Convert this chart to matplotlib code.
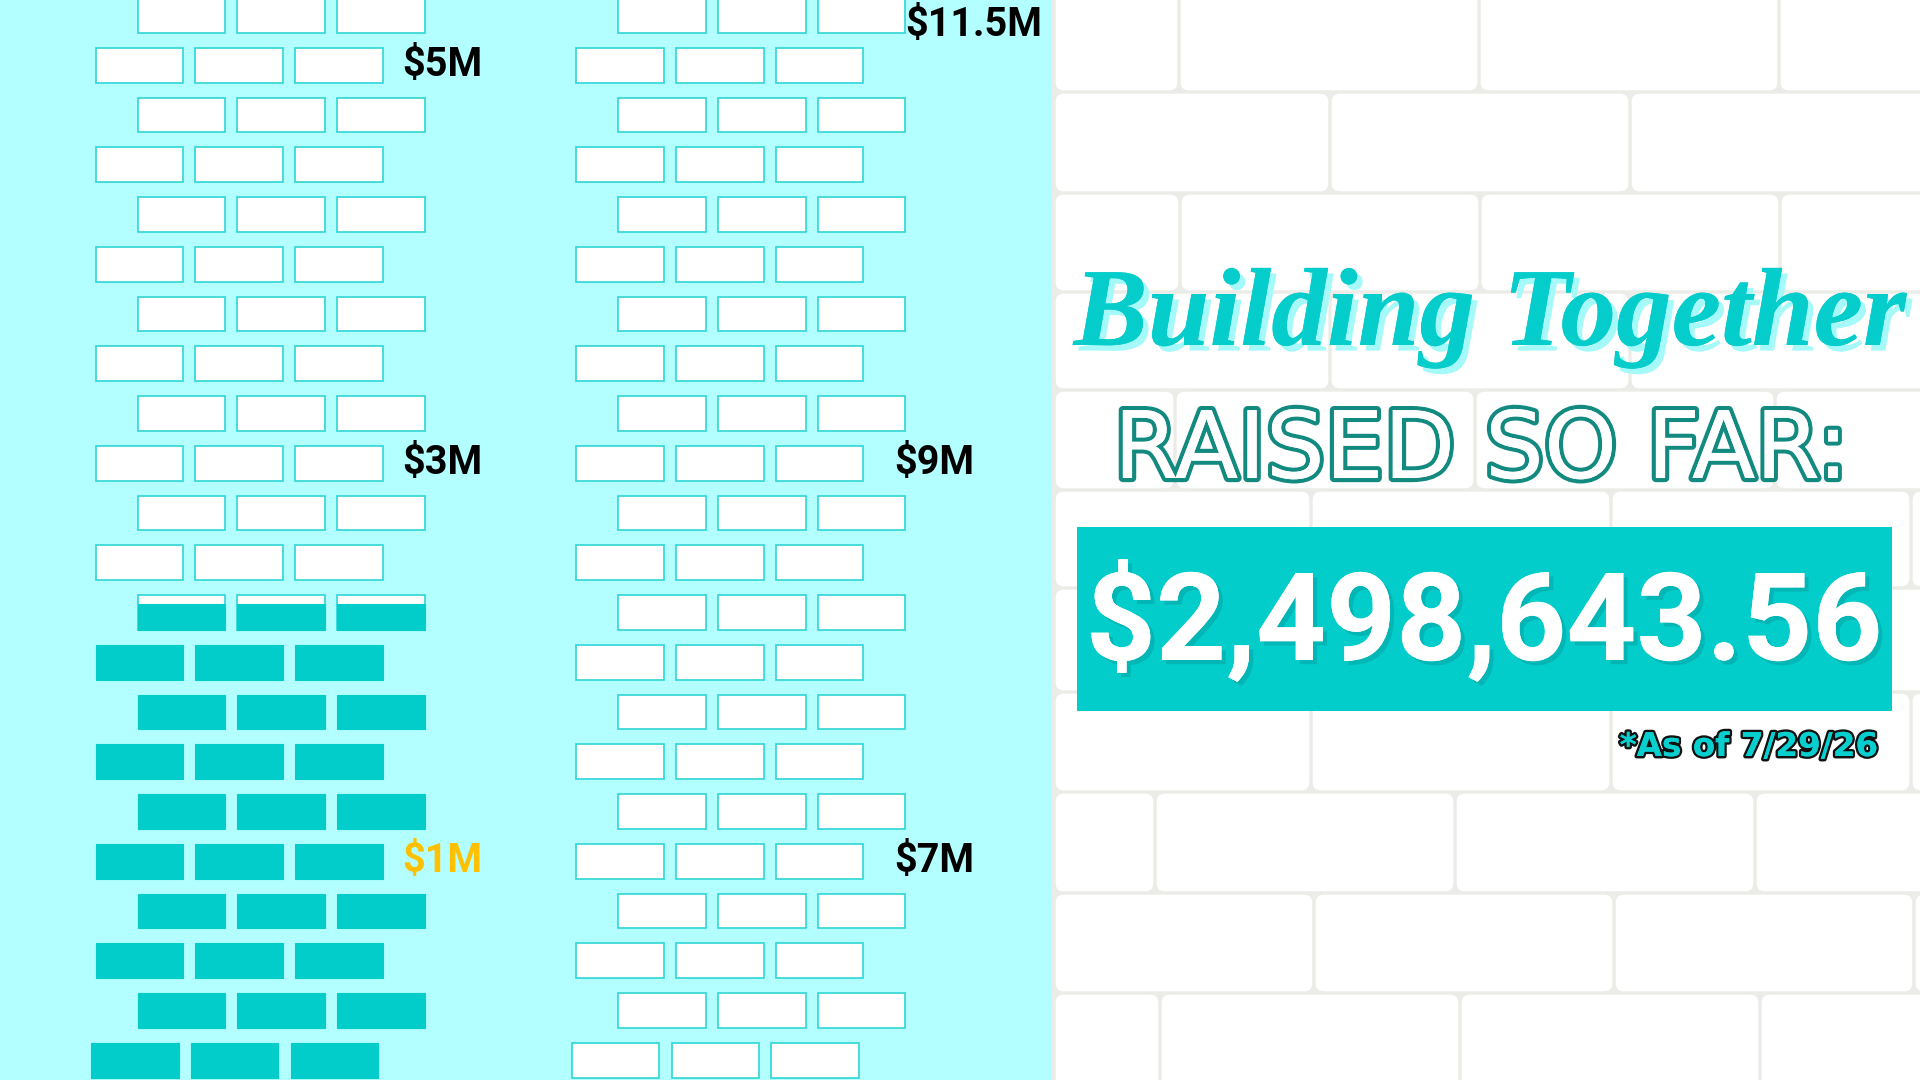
import matplotlib
matplotlib.use('Agg')
import matplotlib.pyplot as plt
from matplotlib.patches import Rectangle, FancyBboxPatch
import matplotlib.patheffects as pe

# ---------------- data ----------------
title_text = 'Building Together'
subtitle_text = 'RAISED SO FAR:'
raised_total = 2498643.56
as_of_date = '7/29/26'
milestone_labels = ['$1M', '$3M', '$5M', '$7M', '$9M', '$11.5M']
milestone_values = [1.0, 3.0, 5.0, 7.0, 9.0, 11.5]
milestone_column = [0, 0, 0, 1, 1, 1]
milestone_colors = ['#FFC000', '#000000', '#000000', '#000000', '#000000', '#000000']
column_top_value = [5.25, 11.25]   # $M represented by the top brick row of each column
value_per_row = 0.25               # $M per brick row
fill_level = 2.29                  # $M level the teal fill reaches

# ---------------- layout / style ----------------
W, H = 1920, 1080
LEFT_W = 1052
N_ROWS = 22
ROW0_TOP = -2.0
ROW_PITCH = 49.75
BRICK_H = 34.8
BRICK_W = 87.5
BRICK_PX = 99.7
OFFSET_X = 42.0
COL_X0 = [95.7, 576.3]
BOTTOM_SHIFT = -4.5
LABEL_CX = [442, 934]
TOP_LABEL_DX = 40

BG_LEFT = '#B3FFFF'
TEAL = '#03CDCB'
OUTLINE = '#2ED5D5'
MORTAR = '#EBEBE7'

MORTAR_Y = [92, 193, 292, 390, 490, 588, 692, 792, 893, 993]
JOINT_START = [1179, 1330, 1180, 1330, 1175, 1311, 1158, 1311, 1155, 1314, 1160]
WALL_BRICK_W = 300
GAP = 1.7

fig = plt.figure(figsize=(19.2, 10.8), dpi=100)
ax = fig.add_axes([0, 0, 1, 1])
ax.set_xlim(0, W)
ax.set_ylim(H, 0)
ax.axis('off')

# left panel background
ax.add_patch(Rectangle((0, 0), LEFT_W, H, fc=BG_LEFT, ec='none', zorder=0))

# right panel: white brick wall
ax.add_patch(Rectangle((LEFT_W, 0), W - LEFT_W, H, fc=MORTAR, ec='none', zorder=0))
tops = [-30] + MORTAR_Y
bottoms = MORTAR_Y + [H + 30]
for r, (yt, yb) in enumerate(zip(tops, bottoms)):
    s = JOINT_START[r]
    joints = [s + WALL_BRICK_W * n for n in range(-2, 4)]
    bounds = [LEFT_W + 2] + [j for j in joints if LEFT_W + 2 < j < W + 300]
    for x0, x1 in zip(bounds[:-1], bounds[1:]):
        ax.add_patch(FancyBboxPatch((x0 + GAP, yt + GAP), x1 - x0 - 2 * GAP, yb - yt - 2 * GAP,
                                    boxstyle='round,pad=0,rounding_size=8',
                                    fc='white', ec='none', zorder=1))

# brick columns
def row_of(col, value):
    return (column_top_value[col] - value) / value_per_row

for c in range(2):
    fill_row = row_of(c, fill_level)
    fill_y = ROW0_TOP + BRICK_H / 2 + fill_row * ROW_PITCH
    for r in range(N_ROWS):
        yt = ROW0_TOP + r * ROW_PITCH
        yb = yt + BRICK_H
        for k in range(3):
            x = COL_X0[c] + (OFFSET_X if r % 2 == 0 else 0) + k * BRICK_PX
            if r == N_ROWS - 1:
                x += BOTTOM_SHIFT
            if yt >= fill_y:
                ax.add_patch(Rectangle((x, yt), BRICK_W, BRICK_H, fc=TEAL, ec=TEAL, lw=0.8, zorder=2))
            else:
                ax.add_patch(Rectangle((x, yt), BRICK_W, BRICK_H, fc='white', ec=OUTLINE, lw=1.2, zorder=2))
                if fill_y < yb:
                    ax.add_patch(Rectangle((x, fill_y), BRICK_W, yb - fill_y, fc=TEAL, ec=TEAL,
                                           lw=0.8, zorder=3))

# milestone labels
for lab, val, col, colr in zip(milestone_labels, milestone_values, milestone_column, milestone_colors):
    r = row_of(col, val)
    cx = LABEL_CX[col]
    if r < 0.2:
        r = 0.2
        cx += TOP_LABEL_DX
    y = ROW0_TOP + BRICK_H / 2 + r * ROW_PITCH
    ax.text(cx, y, lab, ha='center', va='center', fontsize=28.5, fontweight='bold',
            family=['Roboto', 'DejaVu Sans'], color=colr, zorder=5)

# title
ax.text(1490, 345, title_text, ha='center', va='baseline', fontsize=80,
        fontstyle='italic', fontweight='bold', family=['Liberation Serif', 'DejaVu Serif'],
        color='#04CDCB', zorder=6,
        path_effects=[pe.withSimplePatchShadow(offset=(4, -4), shadow_rgbFace='#A6F9F9', alpha=1.0),
                      pe.Normal()])

# subtitle (outlined)
ax.text(1481, 478, subtitle_text, ha='center', va='baseline', fontsize=67,
        family=['DejaVu Sans'], color='white', zorder=6,
        path_effects=[pe.withStroke(linewidth=6, foreground='#138A80'), pe.Normal()])

# total box
ax.add_patch(Rectangle((1076.5, 527), 815.5, 184, fc=TEAL, ec='none', zorder=5))
ax.text(1484, 660, f"${raised_total:,.2f}", ha='center', va='baseline', fontsize=88,
        fontweight='bold', family=['Roboto', 'DejaVu Sans'], color='white', zorder=6,
        path_effects=[pe.withSimplePatchShadow(offset=(3, -3), shadow_rgbFace='#008C8C', alpha=0.35),
                      pe.Normal()])

# as-of note
ax.text(1878, 756, f"*As of {as_of_date}", ha='right', va='baseline', fontsize=23.5,
        fontweight='bold', family=['DejaVu Sans'], color='#08CFCF', zorder=6,
        path_effects=[pe.withStroke(linewidth=3.5, foreground='#111111'), pe.Normal()])

fig.savefig('out.png', dpi=100)
